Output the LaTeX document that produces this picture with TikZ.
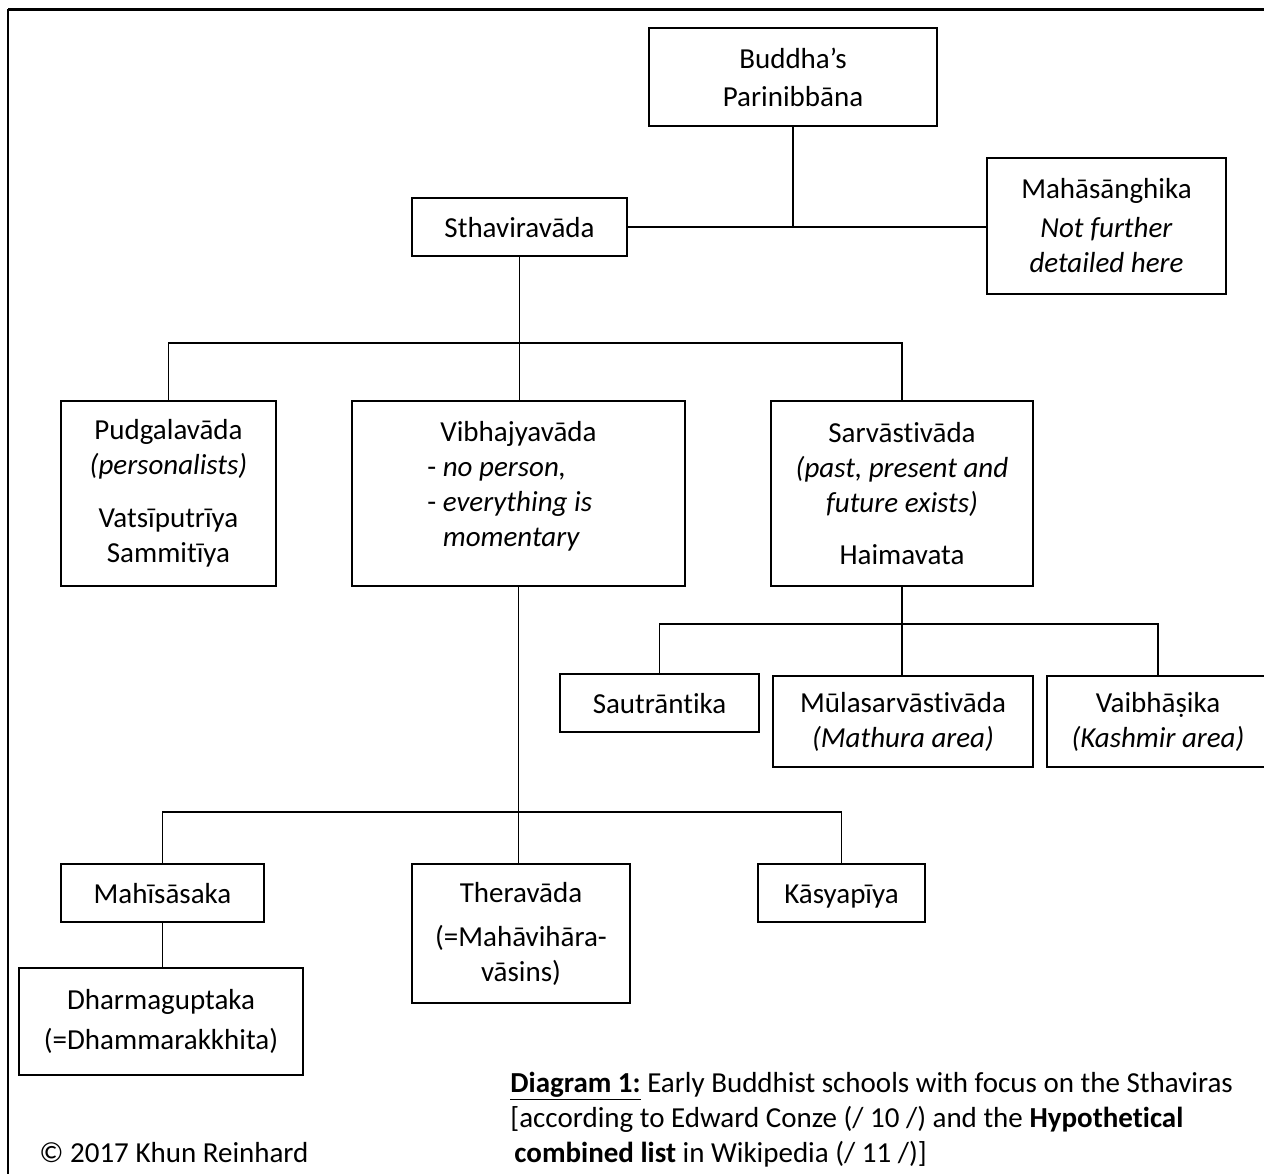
\documentclass[tikz,border=0pt]{standalone}
\usepackage{fontspec}
\setmainfont{Carlito}[Ligatures=NoCommon]
\begin{document}
\begin{tikzpicture}[x=0.5pt, y=-0.5pt,
    font=\fontsize{14.5}{17.5}\selectfont,
    school/.style={draw, line width=1pt, align=center, inner sep=0pt},
    single/.style={school, minimum height=29pt, text height=10pt, text depth=0pt},
    link/.style={line width=0.8pt}]
\useasboundingbox (0,0) rectangle (1264,1173);
\draw[line width=0.75pt] (8,1185) -- (8,9);
\draw[line width=1.5pt] (8,9) -- (1275,9);

\node[school, minimum width=144pt, minimum height=49pt] (buddha) at (793,77) {Buddha’s\\[1.5pt]Parinibbāna};
\node[single, minimum width=107.5pt] (sthavira) at (519.5,227) {Sthaviravāda};
\node[school, minimum width=119.5pt, minimum height=68pt] (maha) at (1106.5,226) {Mahāsānghika\\[2pt]\textit{Not further}\\\textit{detailed here}};

\node[school, minimum width=107.5pt, minimum height=92.5pt] (pudgala) at (168.5,493.5) {Pudgalavāda\\\textit{(personalists)}\\[9pt]Vatsīputrīya\\Sammitīya};
\node[school, minimum width=166.5pt, minimum height=92.5pt] (vibhajya) at (518.5,493.5) {};
\node[anchor=base west, align=left, inner sep=0pt] (vibhtext) at (427,546) {\hspace*{6.5pt}Vibhajyavāda\\- \textit{no person,}\\- \textit{everything is}\\\phantom{- }\textit{momentary}};
\node[school, minimum width=131pt, minimum height=92.5pt] (sarva) at (902,493.5) {Sarvāstivāda\\\textit{(past, present and}\\\textit{future exists)}\\[8.5pt]Haimavata};

\node[single, minimum width=99.5pt] (sautra) at (659.5,703) {Sautrāntika};
\node[school, minimum width=130pt, minimum height=45.5pt] (mula) at (903,721.5) {Mūlasarvāstivāda\\\textit{(Mathura area)}};
\node[school, minimum width=111pt, minimum height=45.5pt] (vaibha) at (1158,721.5) {Vaibhāṣika\\\textit{(Kashmir area)}};

\node[single, minimum width=101.5pt] (mahisa) at (162.5,893) {Mahīsāsaka};
\node[school, minimum width=109pt, minimum height=69.5pt] (thera) at (521,933.5) {Theravāda\\[4.5pt](=Mahāvihāra-\\vāsins)};
\node[single, minimum width=83.5pt] (kasya) at (841.5,893) {Kāsyapīya};
\node[school, minimum width=142pt, minimum height=53.5pt] (dharma) at (161,1021.5) {Dharmaguptaka\\[2.5pt](=Dhammarakkhita)};

\coordinate (split1) at (793,227);
\draw[link] (buddha.south) -- (split1);
\draw[link] (sthavira.east) -- (maha.west |- sthavira.east);

\coordinate (split2) at (519.5,343);
\draw[link] (sthavira.south) -- (split2);
\draw[link] (pudgala.north) |- (split2) -| (sarva.north);
\draw[link] (split2) -- (split2 |- vibhajya.north);

\coordinate (split3) at (902,624);
\draw[link] (sarva.south) -- (split3);
\draw[link] (sautra.north) |- (split3) -| (vaibha.north);
\draw[link] (split3) -- (split3 |- mula.north);

\coordinate (split4) at (518.5,812);
\draw[link] (vibhajya.south) -- (split4);
\draw[link] (mahisa.north) |- (split4) -| (kasya.north);
\draw[link] (split4) -- (split4 |- thera.north);
\draw[link] (mahisa.south) -- (mahisa.south |- dharma.north);

\node[anchor=base west, align=left, inner sep=0pt] (caption) at (510,1162) {\textbf{\underline{Diagram 1:}} Early Buddhist schools with focus on the Sthaviras\\{[}according to Edward Conze (/ 10 /) and the \textbf{Hypothetical}\\\hspace*{2pt}\textbf{combined list} in Wikipedia (/ 11 /)]};
\node[anchor=base west, inner sep=0pt] (copyright) at (39,1162) {© 2017 Khun Reinhard};
\end{tikzpicture}
\end{document}
